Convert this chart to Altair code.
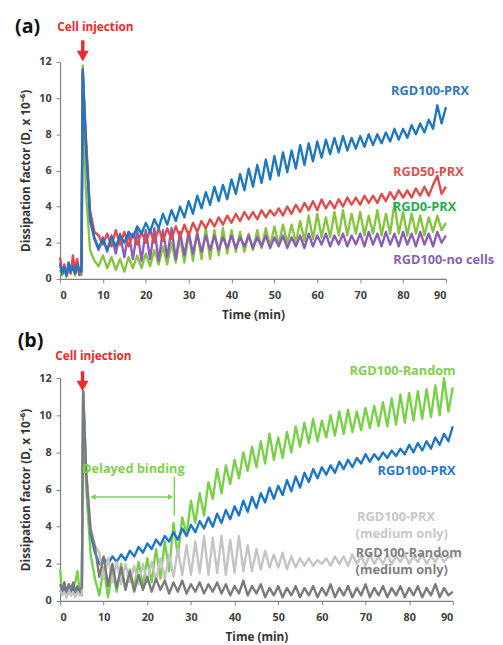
import altair as alt
import pandas as pd

# ---------------- time grid (min) ----------------
T_PRE = [0, 0.5, 1, 1.5, 2, 2.5, 3, 3.5, 4, 4.5, 5.0]
T_SPIKE = [5.3, 6, 7, 8]
T_MAIN = list(range(9, 91))
TIME = T_PRE + T_SPIKE + T_MAIN

# ---------------- panel (a) ----------------
a_rgd100_prx = [0.8, 0.3, 0.6, 0.2, 0.9, 0.4, 0.7, 0.3, 0.8, 0.5, 0.4,
                11.6, 7.5, 3.5, 2.3,
                1.7, 2.2, 1.6, 2.3, 1.8, 2.4, 2.0, 2.6, 2.3, 2.9,
                2.5, 3.1, 2.6, 3.3, 2.8, 3.6, 3.0, 3.8, 3.2, 4.0,
                3.4, 4.3, 3.6, 4.6, 3.9, 4.8, 4.1, 5.1, 4.3, 5.2,
                4.4, 5.5, 4.7, 5.8, 4.9, 6.1, 5.1, 6.3, 5.3, 6.6,
                5.5, 6.8, 5.7, 7.0, 5.9, 7.1, 6.1, 7.4, 6.3, 7.5,
                6.5, 7.6, 6.7, 7.7, 6.9, 7.8, 7.0, 7.9, 7.1, 7.8,
                7.2, 7.9, 7.3, 8.0, 7.4, 8.0, 7.5, 8.1, 7.6, 8.3,
                7.7, 8.3, 7.8, 8.5, 8.0, 8.6, 8.1, 8.8, 8.3, 9.6,
                8.6, 9.5]
a_rgd50_prx = [1.2, 0.4, 0.7, 0.2, 0.9, 0.3, 1.3, 0.5, 1.1, 0.4, 0.6,
               11.5, 8.0, 3.8, 2.6,
               2.4, 1.9, 2.5, 1.8, 2.7, 1.9, 2.6, 1.8, 2.5, 1.9,
               2.6, 2.0, 2.7, 2.0, 2.8, 2.1, 2.8, 2.2, 2.9, 2.3,
               3.0, 2.4, 3.1, 2.6, 3.2, 2.8, 3.3, 2.9, 3.4, 3.0,
               3.5, 3.1, 3.6, 3.2, 3.7, 3.3, 3.7, 3.3, 3.8, 3.4,
               3.8, 3.5, 3.9, 3.5, 4.0, 3.6, 4.1, 3.7, 4.2, 3.8,
               4.3, 3.8, 4.4, 3.9, 4.3, 3.9, 4.4, 4.0, 4.5, 4.1,
               4.5, 4.1, 4.6, 4.2, 4.6, 4.2, 4.7, 4.3, 4.8, 4.4,
               4.9, 4.5, 4.9, 4.5, 5.0, 4.6, 5.1, 4.6, 5.2, 5.7,
               4.7, 5.1]
a_rgd0_prx = [0.5, 0.2, 0.6, 0.1, 0.5, 0.3, 0.7, 0.2, 0.6, 0.3, 0.2,
              11.8, 5.0, 1.6, 1.0,
              0.7, 1.3, 0.6, 1.2, 0.5, 1.1, 0.4, 1.2, 0.6, 1.3,
              0.6, 1.4, 0.7, 1.6, 0.8, 1.8, 0.8, 2.0, 0.9, 2.3,
              0.9, 2.5, 1.0, 2.6, 1.1, 2.8, 1.1, 2.7, 1.3, 2.8,
              1.4, 2.7, 1.5, 2.6, 1.5, 2.5, 1.6, 2.7, 1.7, 2.8,
              1.8, 2.9, 1.9, 3.0, 2.0, 3.0, 2.0, 3.2, 2.1, 3.5,
              2.2, 3.6, 2.3, 3.4, 2.3, 3.7, 2.4, 3.8, 2.4, 3.6,
              2.5, 3.7, 2.4, 3.5, 2.5, 3.8, 2.4, 3.6, 2.5, 4.2,
              2.5, 3.7, 2.4, 3.6, 2.5, 3.5, 2.4, 3.4, 2.6, 3.5,
              2.7, 3.1]
a_rgd100_nocells = [0.9, 0.3, 0.8, 0.2, 0.6, 0.4, 1.0, 0.3, 0.9, 0.2, 0.5,
                    11.4, 7.8, 3.2, 2.2,
                    1.6, 2.3, 1.5, 2.4, 1.4, 2.5, 1.2, 2.6, 1.1, 2.7,
                    1.0, 2.7, 1.1, 2.8, 1.0, 2.7, 1.2, 2.8, 1.1, 2.6,
                    1.3, 2.6, 1.4, 2.5, 1.5, 2.4, 1.6, 2.4, 1.6, 2.3,
                    1.7, 2.4, 1.7, 2.3, 1.8, 2.4, 1.7, 2.3, 1.8, 2.4,
                    1.7, 2.3, 1.8, 2.4, 1.7, 2.3, 1.8, 2.4, 1.7, 2.5,
                    1.8, 2.4, 1.9, 2.5, 1.8, 2.4, 1.9, 2.5, 1.8, 2.4,
                    1.9, 2.5, 1.8, 2.6, 1.9, 2.5, 1.8, 2.6, 1.9, 2.5,
                    1.8, 2.6, 1.9, 2.5, 1.8, 2.6, 1.9, 2.5, 1.8, 2.6,
                    2.0, 2.4]

# ---------------- panel (b) ----------------
b_rgd100_random = [1.7, 0.4, 0.9, 0.2, 0.6, 0.3, 0.8, 1.0, 1.6, 0.5, 0.3,
                   11.2, 6.0, 2.5, 1.2,
                   0.3, 1.8, 0.2, 1.6, 0.5, 2.0, 0.6, 1.7, 0.7, 2.1,
                   0.8, 2.3, 1.0, 2.8, 1.2, 3.2, 1.6, 4.2, 2.4, 4.5,
                   3.6, 5.4, 4.2, 5.8, 4.6, 6.4, 5.5, 7.1, 5.8, 7.3,
                   6.3, 7.6, 6.6, 8.0, 7.0, 8.3, 7.2, 8.6, 7.4, 9.0,
                   7.6, 8.8, 7.7, 9.1, 8.0, 9.4, 8.3, 9.6, 8.5, 9.8,
                   8.6, 9.7, 8.8, 10.0, 8.9, 10.2, 9.0, 10.3, 9.1, 10.2,
                   9.2, 10.4, 9.3, 10.5, 9.4, 10.7, 9.4, 10.9, 9.5, 11.1,
                   9.6, 11.2, 9.7, 11.3, 9.8, 11.4, 9.9, 11.6, 10.0, 12.0,
                   10.2, 11.5]
b_rgd100_prx = [0.6, 0.4, 0.7, 0.3, 0.6, 0.4, 0.7, 0.3, 0.6, 0.4, 0.5,
                11.2, 6.8, 3.6, 2.6,
                2.0, 2.3, 2.0, 2.4, 2.1, 2.5, 2.2, 2.7, 2.4, 2.9,
                2.6, 3.1, 2.8, 3.3, 3.0, 3.5, 3.2, 3.7, 3.3, 3.9,
                3.5, 4.1, 3.7, 4.3, 3.9, 4.5, 4.0, 4.7, 4.2, 4.9,
                4.4, 5.1, 4.6, 5.4, 4.8, 5.6, 5.0, 5.8, 5.3, 6.1,
                5.5, 6.2, 5.7, 6.5, 5.9, 6.7, 6.1, 6.9, 6.4, 7.1,
                6.6, 7.2, 6.8, 7.3, 6.9, 7.5, 7.1, 7.6, 7.2, 7.7,
                7.4, 7.9, 7.5, 7.9, 7.6, 8.0, 7.7, 8.1, 7.8, 8.2,
                7.9, 8.4, 8.0, 8.5, 8.1, 8.6, 8.2, 8.8, 8.4, 9.0,
                8.6, 9.4]
b_prx_medium = [0.6, 0.3, 0.5, 0.2, 0.6, 0.3, 0.5, 0.2, 0.5, 0.3, 0.4,
                11.3, 7.0, 4.0, 3.0,
                2.6, 1.2, 2.3, 1.0, 2.1, 0.9, 2.0, 1.0, 1.9, 0.9,
                2.0, 1.0, 2.1, 1.1, 2.3, 1.2, 2.5, 1.3, 2.8, 1.4,
                3.0, 1.4, 3.2, 1.5, 3.5, 1.4, 3.4, 1.5, 3.5, 1.4,
                3.3, 1.5, 3.5, 1.6, 3.0, 1.6, 2.8, 1.7, 2.7, 1.8,
                2.5, 1.8, 2.6, 1.7, 2.4, 1.8, 2.3, 1.9, 2.3, 1.9,
                2.2, 2.0, 2.3, 1.9, 2.4, 2.0, 2.4, 1.9, 2.5, 2.0,
                2.4, 1.9, 2.5, 2.0, 2.4, 2.0, 2.5, 2.0, 2.4, 2.1,
                2.5, 2.0, 2.4, 2.1, 2.5, 2.0, 2.4, 2.1, 2.5, 2.1,
                2.4, 2.3]
b_random_medium = [0.9, 0.6, 1.0, 0.5, 0.9, 0.6, 1.0, 0.5, 0.8, 0.6, 0.7,
                   11.3, 6.9, 3.8, 2.9,
                   1.3, 2.4, 0.8, 2.0, 0.7, 1.8, 0.6, 1.6, 0.5, 1.4,
                   0.6, 1.3, 0.5, 1.2, 0.6, 1.1, 0.4, 1.0, 0.5, 1.1,
                   0.4, 0.9, 0.5, 1.0, 0.4, 0.9, 0.5, 1.0, 0.4, 0.9,
                   0.3, 0.8, 0.4, 1.1, 0.3, 0.8, 0.4, 0.9, 0.2, 0.7,
                   0.3, 0.8, 0.2, 0.7, 0.3, 0.8, 0.2, 0.7, 0.3, 0.8,
                   0.2, 0.7, 0.3, 0.9, 0.2, 0.7, 0.3, 0.8, 0.2, 0.7,
                   0.3, 0.9, 0.2, 0.7, 0.3, 0.8, 0.2, 0.7, 0.3, 0.8,
                   0.2, 0.7, 0.3, 0.8, 0.2, 0.7, 0.3, 0.9, 0.2, 0.7,
                   0.3, 0.5]

# ---------------- labels ----------------
a_labels_text = ["RGD100-PRX", "RGD50-PRX", "RGD0-PRX", "RGD100-no cells"]
a_labels_t = [86.3, 85.9, 85.0, 89.5]
a_labels_v = [10.4, 5.9, 4.0, 1.03]
a_labels_color = ["#2f78b8", "#d9534f", "#1fae4a", "#8a63b0"]

b_labels_text = ["RGD100-Random", "RGD100-PRX", "RGD100-PRX", "(medium only)",
                 "RGD100-Random", "(medium only)"]
b_labels_t = [78.5, 81.7, 77.0, 78.3, 79.9, 78.3]
b_labels_v = [12.37, 6.98, 4.5, 3.58, 2.6, 1.66]
b_labels_color = ["#7fd04e", "#1f78c8", "#c8c8c8", "#c8c8c8", "#808080", "#808080"]

FONT = "Open Sans"
RED = "#ee2a2a"


def panel(series, labels, width, height, tag, tag_xy, inj_xy, arrow_t, arrow_y, extra=None):
    xs = alt.Scale(domain=[0, 90], nice=False)
    ys = alt.Scale(domain=[0, 12], nice=False)
    x_axis = alt.Axis(values=list(range(0, 91, 10)), title="Time (min)", tickSize=4,
                      labelPadding=7, titlePadding=9)
    y_axis = alt.Axis(values=list(range(0, 13, 2)), title="Dissipation factor (D, x 10⁻⁶)",
                      tickSize=4, labelPadding=5, titlePadding=7)

    def X():
        return alt.X("t:Q", scale=xs, axis=x_axis)

    def Y():
        return alt.Y("v:Q", scale=ys, axis=y_axis)

    layers = []
    for vals, color in series:
        df = pd.DataFrame({"t": TIME, "v": vals})
        layers.append(alt.Chart(df).mark_line(color=color, strokeWidth=2.4,
                                              strokeJoin="round").encode(x=X(), y=Y()))

    ltext, lt, lv, lc = labels
    ldf = pd.DataFrame({"t": lt, "v": lv, "text": ltext, "color": lc})
    layers.append(alt.Chart(ldf).mark_text(font=FONT, fontSize=13, fontWeight="bold").encode(
        x=X(), y=Y(), text="text:N", color=alt.Color("color:N", scale=None)))

    one = pd.DataFrame({"t": [arrow_t]})
    layers.append(alt.Chart(one).mark_text(font=FONT, fontSize=20, fontWeight="bold",
                                           color="#111111").encode(
        x=alt.value(tag_xy[0]), y=alt.value(tag_xy[1]), text=alt.value(tag)))
    layers.append(alt.Chart(one).mark_text(font=FONT, fontSize=12, fontWeight="bold",
                                           color=RED).encode(
        x=alt.value(inj_xy[0]), y=alt.value(inj_xy[1]), text=alt.value("Cell injection")))
    layers.append(alt.Chart(one).mark_rule(color=RED, strokeWidth=3.5).encode(
        x=X(), y=alt.value(arrow_y[0]), y2=alt.value(arrow_y[1])))
    layers.append(alt.Chart(one).mark_point(shape="triangle-down", filled=True, size=150,
                                            color=RED, opacity=1).encode(
        x=X(), y=alt.value(arrow_y[2])))
    if extra is not None:
        layers.extend(extra(X, Y))
    return alt.layer(*layers).properties(width=width, height=height)


def delayed(X, Y):
    G = "#7fd04e"
    h = pd.DataFrame({"t": [7.2], "t2": [25.6], "v": [5.6]})
    vline = pd.DataFrame({"t": [26.2], "v": [4.6], "v2": [6.7]})
    tl = pd.DataFrame({"t": [7.6], "v": [5.6]})
    tr = pd.DataFrame({"t": [25.3], "v": [5.6]})
    txt = pd.DataFrame({"t": [16.8], "v": [7.1]})
    return [
        alt.Chart(h).mark_rule(color=G, strokeWidth=1.5).encode(x=X(), x2="t2:Q", y=Y()),
        alt.Chart(vline).mark_rule(color=G, strokeWidth=1.5).encode(x=X(), y=Y(), y2="v2:Q"),
        alt.Chart(tl).mark_point(shape="triangle-left", filled=True, size=35, color=G,
                                 opacity=1).encode(x=X(), y=Y()),
        alt.Chart(tr).mark_point(shape="triangle-right", filled=True, size=35, color=G,
                                 opacity=1).encode(x=X(), y=Y()),
        alt.Chart(txt).mark_text(font=FONT, fontSize=13, fontWeight="bold", color=G).encode(
            x=X(), y=Y(), text=alt.value("Delayed binding")),
    ]


pa = panel(
    [(a_rgd0_prx, "#86c440"), (a_rgd100_nocells, "#8b5cb8"),
     (a_rgd50_prx, "#e04a4a"), (a_rgd100_prx, "#1f77c0")],
    (a_labels_text, a_labels_t, a_labels_v, a_labels_color),
    393, 221, "(a)", (-33, -35), (36, -35), 5.3, (-22, -11, -6),
)
pb = panel(
    [(b_rgd100_random, "#77d147"), (b_rgd100_prx, "#1b75c8"),
     (b_prx_medium, "#c4c4c4"), (b_random_medium, "#7a7a7a")],
    (b_labels_text, b_labels_t, b_labels_v, b_labels_color),
    400, 227, "(b)", (-30, -38), (34, -22), 5.15, (-7, 3, 8),
    extra=delayed,
)

chart = alt.vconcat(pa, pb, spacing=11).properties(
    padding={"left": 7, "top": 4, "right": 0, "bottom": 0}
).configure_axis(
    grid=False, domainColor="#808080", tickColor="#808080", domainWidth=1.2,
    labelColor="#404040", titleColor="#333333", labelFont=FONT, titleFont=FONT,
    labelFontWeight="bold", titleFontWeight="bold", labelFontSize=11, titleFontSize=12,
).configure_view(stroke=None)

chart.save("out.html", embed_options={"renderer": "svg", "actions": False})
